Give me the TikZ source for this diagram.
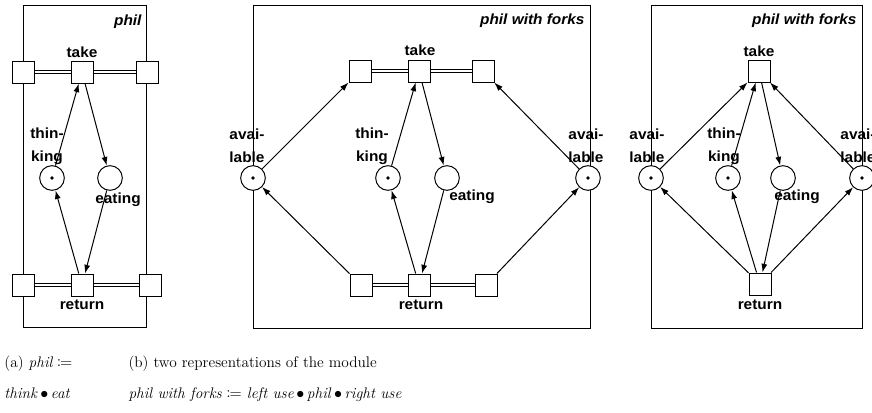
\documentclass[tikz,border=0pt]{standalone}
\usepackage{mathtools}
\usepackage{fontspec}
\newfontfamily\netfont[FakeStretch=1.05]{Liberation Sans}
\usetikzlibrary{arrows.meta}
\tikzset{
  place/.style={circle,draw,fill=white,minimum size=18.5pt,inner sep=0pt},
  marked/.style={place,path picture={\fill[black] (path picture bounding box.center) circle (1.4pt);}},
  trans/.style={rectangle,draw,fill=white,minimum size=16.5pt,inner sep=0pt},
  lbl/.style={font=\netfont\bfseries\fontsize{11}{17.5}\selectfont,align=center,inner sep=0pt},
  modname/.style={font=\netfont\bfseries\itshape\fontsize{11}{12}\selectfont,anchor=east,inner sep=0pt},
  sync/.style={double,double distance=1.3pt,line width=0.6pt},
  capt/.style={font=\fontsize{11.5}{13}\selectfont,anchor=base west,inner sep=0pt}
}

\begin{document}
\begin{tikzpicture}[>={Latex[length=6.5pt,width=4.5pt]},x=0.75pt,y=-0.75pt,line width=0.75pt]
\useasboundingbox (0,0) rectangle (872,412);

% (a) phil
\draw (23,5) rectangle (146,327);
\node[modname] (namea) at (142,22) {phil};
\node[trans] (a1) at (23,72) {};
\node[trans] (a2) at (82,72) {};
\node[trans] (a3) at (147,72) {};
\node[trans] (a4) at (23,285) {};
\node[trans] (a5) at (82,285) {};
\node[trans] (a6) at (150,285) {};
\node[marked] (athink) at (52,178) {};
\node[place] (aeat) at (110,178) {};
\node[lbl] (atake) at (82,52) {take};
\node[lbl] (aret) at (82,305) {return};
\node[lbl] (athinkl) at (47,146) {thin-\\king};
\node[lbl] (aeatl) at (118,200) {eating};
\draw[sync] (a1) -- (a2) -- (a3);
\draw[sync] (a4) -- (a5) -- (a6);
\draw[->] (athink) -- (a2);
\draw[->] (a2) -- (aeat);
\draw[->] (aeat) -- (a5);
\draw[->] (a5) -- (athink);

% (b) phil with forks, fork transitions apart
\draw (253,5) rectangle (590,328);
\node[modname] (nameb) at (585,21) {phil with forks};
\node[trans] (b1) at (360,71) {};
\node[trans] (b2) at (419,71) {};
\node[trans] (b3) at (483,71) {};
\node[trans] (b4) at (361,285) {};
\node[trans] (b5) at (419,285) {};
\node[trans] (b6) at (486,285) {};
\node[marked] (bleft) at (253,178) {};
\node[marked] (bthink) at (388,178) {};
\node[place] (beat) at (447,178) {};
\node[marked] (bright) at (588,178) {};
\node[lbl] (btake) at (420,50) {take};
\node[lbl] (bret) at (421,305) {return};
\node[lbl] (bleftl) at (247,146) {avai-\\lable};
\node[lbl] (brightl) at (586,146) {avai-\\lable};
\node[lbl] (bthinkl) at (372,146) {thin-\\king};
\node[lbl] (beatl) at (472,197) {eating};
\draw[sync] (b1) -- (b2) -- (b3);
\draw[sync] (b4) -- (b5) -- (b6);
\draw[->] (bleft) -- (b1);
\draw[->] (b4) -- (bleft);
\draw[->] (bright) -- (b3);
\draw[->] (b6) -- (bright);
\draw[->] (bthink) -- (b2);
\draw[->] (b2) -- (beat);
\draw[->] (beat) -- (b5);
\draw[->] (b5) -- (bthink);

% (b) phil with forks, folded
\draw (651,5) rectangle (862,328);
\node[modname] (namec) at (857,21) {phil with forks};
\node[trans] (c1) at (759,71) {};
\node[trans] (c2) at (760,284) {};
\node[marked] (cleft) at (651,178) {};
\node[marked] (cthink) at (728,178) {};
\node[place] (ceat) at (783,178) {};
\node[marked] (cright) at (862,178) {};
\node[lbl] (ctake) at (759,51) {take};
\node[lbl] (cret) at (760,305) {return};
\node[lbl] (cleftl) at (647,146) {avai-\\lable};
\node[lbl] (crightl) at (858,146) {avai-\\lable};
\node[lbl] (cthinkl) at (724,146) {thin-\\king};
\node[lbl] (ceatl) at (797,197) {eating};
\draw[->] (cleft) -- (c1);
\draw[->] (cthink) -- (c1);
\draw[->] (c1) -- (ceat);
\draw[->] (cright) -- (c1);
\draw[->] (c2) -- (cleft);
\draw[->] (c2) -- (cthink);
\draw[->] (ceat) -- (c2);
\draw[->] (c2) -- (cright);

% captions
\node[capt] (capa1) at (4,367) {(a) $\mathit{phil}\coloneqq$};
\node[capt] (capa2) at (4,398) {\textit{think}\,$\bullet$\,\textit{eat}};
\node[capt] (capb1) at (128,367) {(b) two representations of the module};
\node[capt] (capb2) at (128,398) {\textit{phil with forks}$\;\coloneqq$ \textit{left use}\,$\bullet$\,\textit{phil}\,$\bullet$\,\textit{right use}};
\end{tikzpicture}
\end{document}
